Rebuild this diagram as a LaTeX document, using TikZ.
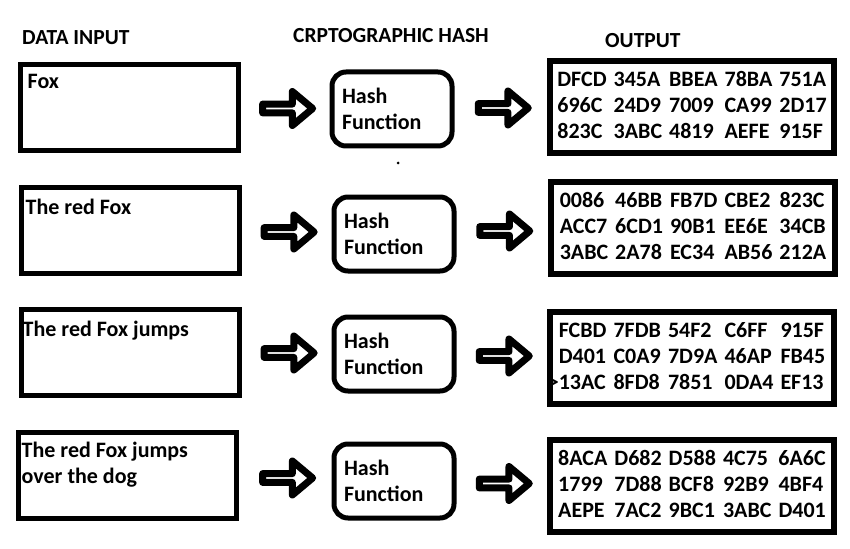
\documentclass[tikz,border=0pt]{standalone}
\usepackage{fontspec}
\setmainfont{Carlito}
\usetikzlibrary{positioning,shapes.arrows,calc}
\begin{document}
\begin{tikzpicture}[x=1pt, y=-1pt,
    every node/.style={font=\fontsize{22}{26}\selectfont\bfseries},
    head/.style={anchor=west, inner sep=0pt, font=\fontsize{21.5}{24}\selectfont\bfseries},
    inbox/.style={draw, line width=5pt, minimum width=218pt, minimum height=86pt, inner sep=0pt},
    intext/.style={inner sep=0pt, align=left, anchor=north west},
    hashbox/.style={draw, line width=5pt, rounded corners=14pt, text width=100pt, inner sep=10pt, minimum height=74pt, align=left},
    outbox/.style={draw, line width=6.5pt, minimum width=284pt, minimum height=92pt, inner sep=0pt},
    blockarrow/.style={draw, line width=7pt, line join=round, single arrow, single arrow tip angle=80, single arrow head extend=10pt, minimum height=50pt, minimum width=34pt, inner sep=0pt}]
    \useasboundingbox (0,0) rectangle (850,548);

    \node[head] (hin) at (22,38) {DATA INPUT};
    \node[head] (hhash) at (293,36) {CRPTOGRAPHIC HASH};
    \node[head] (hout) at (605,41) {OUTPUT};

    \node[inbox] (in1) at (129,108) {};
    \node[inbox] (in2) at (130,230) {};
    \node[inbox] (in3) at (130,352) {};
    \node[inbox] (in4) at (127,475) {};
    \node[intext] (txt1) at ($(in1.north west)+(10,12)$) {Fox};
    \node[intext] (txt2) at ($(in2.north west)+(7,14)$) {The red Fox};
    \node[intext] (txt3) at ($(in3.north west)+(4,14)$) {The red Fox jumps};
    \node[intext] (txt4) at ($(in4.north west)+(6,12)$) {The red Fox jumps\\over the dog};

    \node[hashbox] (hash1) at (392,109) {Hash\\Function};
    \node[hashbox] (hash2) at (394,234) {Hash\\Function};
    \node[hashbox] (hash3) at (394,354) {Hash\\Function};
    \node[hashbox] (hash4) at (394,481) {Hash\\Function};

    \node[outbox] (out1) at (692,107) {\setlength{\tabcolsep}{3.5pt}\begin{tabular}{@{}lllll@{}}
        DFCD & 345A & BBEA & 78BA & 751A\\
        696C & 24D9 & 7009 & CA99 & 2D17\\
        823C & 3ABC & 4819 & AEFE & 915F
    \end{tabular}};
    \node[outbox] (out2) at (693,228) {\setlength{\tabcolsep}{3.5pt}\begin{tabular}{@{}lllll@{}}
        0086 & 46BB & FB7D & CBE2 & 823C\\
        ACC7 & 6CD1 & 90B1 & EE6E & 34CB\\
        3ABC & 2A78 & EC34 & AB56 & 212A
    \end{tabular}};
    \node[outbox] (out3) at (692,358) {\setlength{\tabcolsep}{3.5pt}\begin{tabular}{@{}lllll@{}}
        FCBD & 7FDB & 54F2 & C6FF & 915F\\
        D401 & C0A9 & 7D9A & 46AP & FB45\\
        \llap{>}13AC & 8FD8 & 7851 & 0DA4 & EF13
    \end{tabular}};
    \node[outbox] (out4) at (692,486) {\setlength{\tabcolsep}{3.5pt}\begin{tabular}{@{}lllll@{}}
        8ACA & D682 & D588 & 4C75 & 6A6C\\
        1799 & 7D88 & BCF8 & 92B9 & 4BF4\\
        AEPE & 7AC2 & 9BC1 & 3ABC & D401
    \end{tabular}};

    \node[blockarrow] (a1) at ($(in1.east)!0.5!(hash1.west)$) {};
    \node[blockarrow] (a2) at ($(in2.east)!0.5!(hash2.west)$) {};
    \node[blockarrow] (a3) at ($(in3.east)!0.5!(hash3.west)$) {};
    \node[blockarrow] (a4) at ($(in4.east)!0.5!(hash4.west)$) {};
    \node[blockarrow] (b1) at ($(hash1.east)!0.5!(out1.west)$) {};
    \node[blockarrow] (b2) at ($(hash2.east)!0.5!(out2.west)$) {};
    \node[blockarrow] (b3) at ($(hash3.east)!0.5!(out3.west)$) {};
    \node[blockarrow] (b4) at ($(hash4.east)!0.5!(out4.west)$) {};

    \fill (398,163) circle (1.5pt);
\end{tikzpicture}
\end{document}
